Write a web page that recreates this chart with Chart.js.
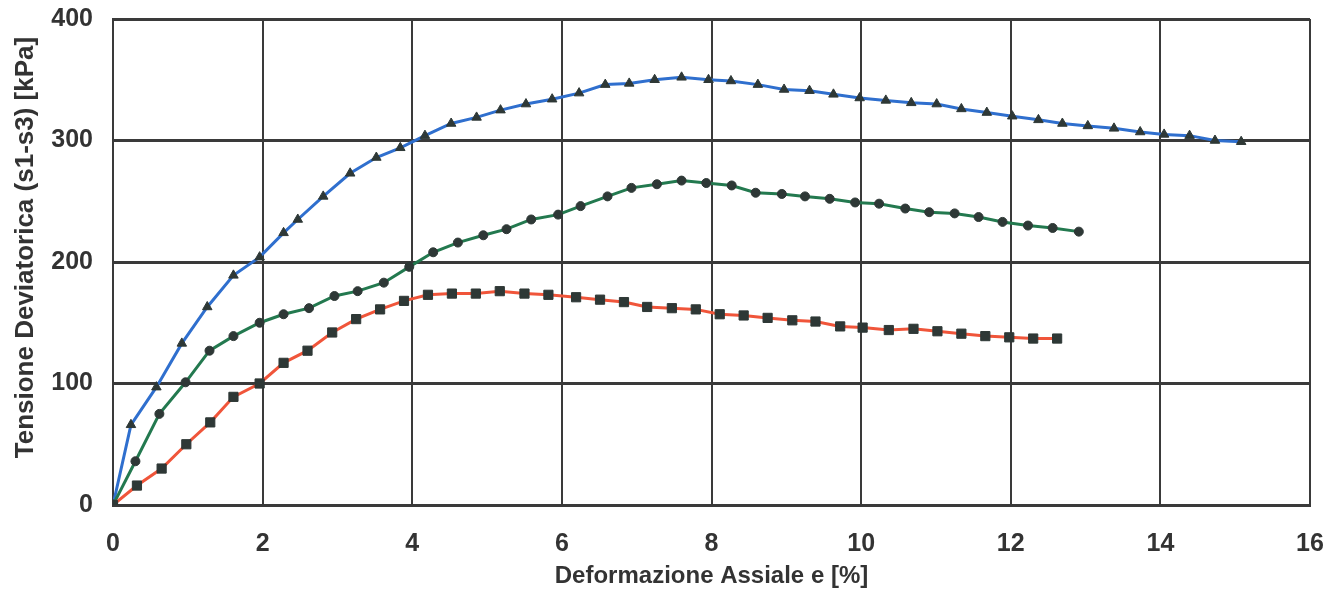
<!DOCTYPE html>
<html>
<head>
<meta charset="utf-8">
<script src="https://cdn.jsdelivr.net/npm/chart.js@4"></script>
<style>
  html, body { margin: 0; padding: 0; background: #fff; }
  #wrap { width: 1339px; height: 604px; position: relative; }
</style>
</head>
<body>
<div id="wrap"><canvas id="chart"></canvas></div>
<script>
// tick labels
const xTicks = [0, 2, 4, 6, 8, 10, 12, 14, 16];
const yTicks = [0, 100, 200, 300, 400];

// blue curve (triangles)
const blueX = [0, 0.24, 0.58, 0.92, 1.26, 1.61, 1.96, 2.28, 2.47, 2.81, 3.17, 3.52, 3.84, 4.17, 4.52, 4.86, 5.18, 5.52, 5.87, 6.23, 6.58, 6.90, 7.24, 7.60, 7.96, 8.26, 8.62, 8.97, 9.31, 9.63, 9.98, 10.33, 10.67, 11.01, 11.34, 11.68, 12.02, 12.37, 12.69, 13.03, 13.38, 13.73, 14.05, 14.39, 14.73, 15.08];
const blueY = [0, 66, 97, 133, 163, 189, 204, 224, 235, 254, 273, 286, 294, 304, 314, 319, 325, 330, 334, 339, 346, 347, 350, 352, 350, 349, 346, 342, 341, 338, 335, 333, 331, 330, 326, 323, 320, 317, 314, 312, 310, 307, 305, 304, 300, 299];

// green curve (circles)
const greenX = [0, 0.30, 0.62, 0.97, 1.29, 1.61, 1.96, 2.28, 2.62, 2.96, 3.27, 3.62, 3.96, 4.28, 4.61, 4.95, 5.26, 5.59, 5.95, 6.25, 6.61, 6.93, 7.27, 7.60, 7.93, 8.27, 8.59, 8.94, 9.25, 9.58, 9.92, 10.24, 10.59, 10.91, 11.25, 11.57, 11.89, 12.23, 12.56, 12.91];
const greenY = [0, 36, 75, 101, 127, 139, 150, 157, 162, 172, 176, 183, 196, 208, 216, 222, 227, 235, 239, 246, 254, 261, 264, 267, 265, 263, 257, 256, 254, 252, 249, 248, 244, 241, 240, 237, 233, 230, 228, 225];

// red curve (squares)
const redX = [0, 0.32, 0.65, 0.98, 1.30, 1.61, 1.96, 2.28, 2.60, 2.93, 3.25, 3.57, 3.89, 4.21, 4.53, 4.85, 5.17, 5.50, 5.82, 6.19, 6.51, 6.83, 7.14, 7.47, 7.79, 8.11, 8.43, 8.75, 9.08, 9.39, 9.72, 10.02, 10.37, 10.70, 11.02, 11.34, 11.66, 11.98, 12.30, 12.62];
const redY = [0, 16, 30, 50, 68, 89, 100, 117, 127, 142, 153, 161, 168, 173, 174, 174, 176, 174, 173, 171, 169, 167, 163, 162, 161, 157, 156, 154, 152, 151, 147, 146, 144, 145, 143, 141, 139, 138, 137, 137];

function toPoints(xs, ys) {
  return xs.map((x, i) => ({ x: x, y: ys[i] }));
}

const markColor = '#2e3836';
const gridColor = '#3a3a3a';
const textColor = '#333';
const font = 'Liberation Sans, Arial, sans-serif';

function series(label, xs, ys, color, style, radius) {
  return {
    label: label,
    data: toPoints(xs, ys),
    showLine: true,
    borderColor: color,
    borderWidth: 3,
    pointStyle: style,
    pointRadius: radius,
    pointBackgroundColor: markColor,
    pointBorderColor: markColor,
    pointBorderWidth: 1
  };
}

// tick marks are kept invisible, their length only spaces the labels from the axis
new Chart(document.getElementById('chart'), {
  type: 'scatter',
  data: {
    datasets: [
      series('Provino 3', redX, redY, '#f0553a', 'rect', 6.5),
      series('Provino 2', greenX, greenY, '#23794f', 'circle', 4.5),
      series('Provino 1', blueX, blueY, '#2f6fce', 'triangle', 5.5)
    ]
  },
  options: {
    responsive: true,
    maintainAspectRatio: false,
    animation: false,
    layout: { padding: { left: 0, right: 29, top: 19, bottom: 0 } },
    plugins: {
      legend: { display: false },
      tooltip: { enabled: false }
    },
    scales: {
      x: {
        type: 'linear',
        min: 0,
        max: 16,
        afterBuildTicks: (s) => { s.ticks = xTicks.map(v => ({ value: v })); },
        afterFit: (s) => { s.height = 99; },
        grid: { color: gridColor, lineWidth: 2, drawTicks: true, tickLength: 24, tickColor: 'rgba(0,0,0,0)' },
        border: { color: gridColor, width: 3 },
        ticks: { color: textColor, padding: 0, font: { family: font, size: 25, weight: 'bold' } },
        title: {
          display: true,
          text: 'Deformazione Assiale e [%]',
          color: textColor,
          padding: { top: 0, bottom: 13 },
          font: { family: font, size: 24, weight: 'bold' }
        }
      },
      y: {
        type: 'linear',
        min: 0,
        max: 400,
        afterBuildTicks: (s) => { s.ticks = yTicks.map(v => ({ value: v })); },
        afterFit: (s) => { s.width = 113; },
        grid: { color: gridColor, lineWidth: 3, drawTicks: true, tickLength: 20, tickColor: 'rgba(0,0,0,0)' },
        border: { color: gridColor, width: 2 },
        ticks: { color: textColor, padding: 0, font: { family: font, size: 25, weight: 'bold' } },
        title: {
          display: true,
          text: '    Tensione Deviatorica (s1-s3) [kPa]',
          color: textColor,
          padding: { top: 10, bottom: 0 },
          font: { family: font, size: 26, weight: 'bold' }
        }
      }
    }
  }
});
</script>
</body>
</html>
